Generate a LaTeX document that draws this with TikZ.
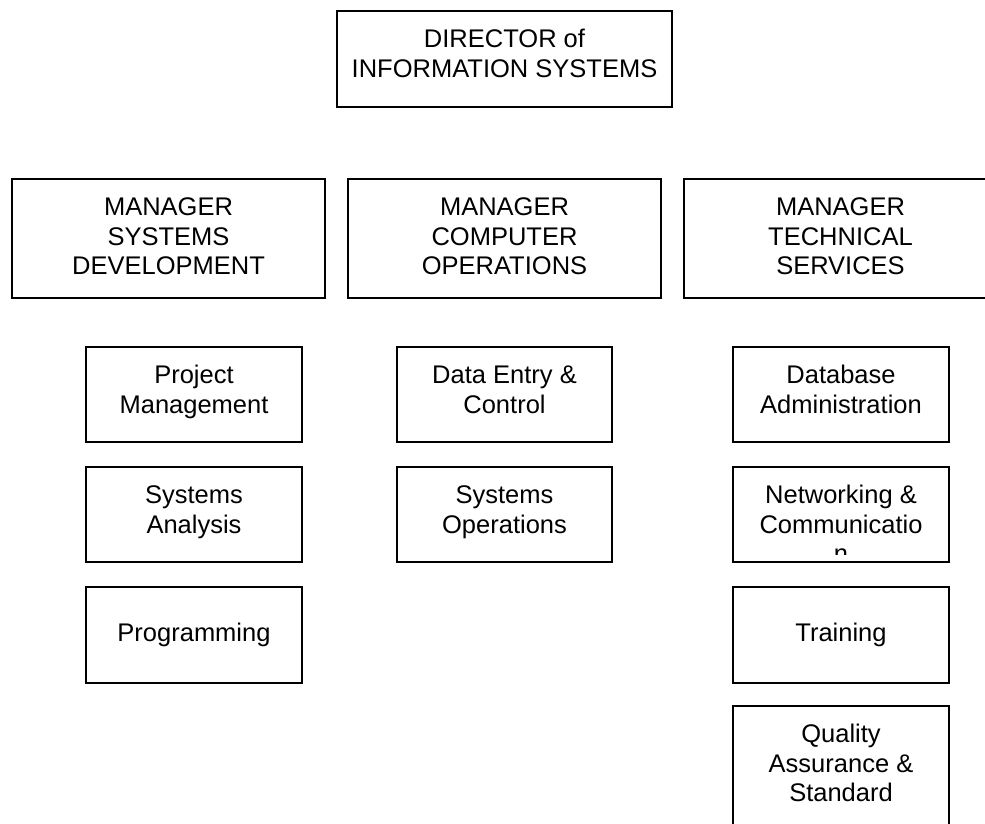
\documentclass[tikz,border=0pt]{standalone}
\usepackage{fontspec}
\setmainfont{Liberation Sans}
\begin{document}
\begin{tikzpicture}[x=1pt,y=-1pt,
  orgbox/.style={draw=black, line width=1.8pt, inner sep=0pt, outer sep=0pt},
  orgtext/.style={font=\fontsize{25.5}{29.5}\selectfont, align=center, inner sep=0pt, anchor=north}]
\useasboundingbox (0,0) rectangle (985,824);
\clip (0,0) rectangle (985,824);
% box from (x1,y1) to (x2,y2), y measured downwards
\newcommand\orgrect[5]{\node[orgbox, minimum width={(#4)-(#2)}, minimum height={(#5)-(#3)}] (#1) at ({((#2)+(#4))/2},{((#3)+(#5))/2}) {};}
% text block whose top sits #3 below the top edge of box #2
\newcommand\orglabel[4]{\node[orgtext] (#1) at ([yshift=-#3pt]#2.north) {#4};}

% director
\orgrect{dir}{337}{11}{672}{107}
\orglabel{dirT}{dir}{15.85}{\strut DIRECTOR of\\\strut INFORMATION SYSTEMS}

% managers
\orgrect{msd}{12}{179}{325}{298}
\orgrect{mco}{348}{179}{661}{298}
\orgrect{mts}{684}{179}{997}{298}
\orglabel{msdT}{msd}{15.85}{\strut MANAGER\\\strut SYSTEMS\\\strut DEVELOPMENT}
\orglabel{mcoT}{mco}{15.85}{\strut MANAGER\\\strut COMPUTER\\\strut OPERATIONS}
\orglabel{mtsT}{mts}{15.85}{\strut MANAGER\\\strut TECHNICAL\\\strut SERVICES}

% systems development units
\orgrect{pm}{86}{347}{302}{442}
\orgrect{sa}{86}{467}{302}{562}
\orgrect{prg}{86}{587}{302}{683}
\orglabel{pmT}{pm}{15.85}{\strut Project\\\strut Management}
\orglabel{saT}{sa}{15.85}{\strut Systems\\\strut Analysis}
\orglabel{prgT}{prg}{34}{\strut Programming}

% computer operations units
\orgrect{de}{397}{347}{612}{442}
\orgrect{so}{397}{467}{612}{562}
\orglabel{deT}{de}{15.85}{\strut Data Entry \&\\\strut Control}
\orglabel{soT}{so}{15.85}{\strut Systems\\\strut Operations}

% technical services units
\orgrect{db}{733}{347}{949}{442}
\orgrect{nw}{733}{467}{949}{562}
\orgrect{tr}{733}{587}{949}{683}
\orgrect{qa}{733}{706}{949}{825}
\orglabel{dbT}{db}{15.85}{\strut Database\\\strut Administration}
\begin{scope}
  % overflowing text is cut at the inner bottom margin
  \clip (nw.north west) rectangle ([yshift=8pt]nw.south east);
  \orglabel{nwT}{nw}{15.85}{\strut Networking \&\\\strut Communicatio\\\strut n}
\end{scope}
\orglabel{trT}{tr}{34}{\strut Training}
\orglabel{qaT}{qa}{15.85}{\strut Quality\\\strut Assurance \&\\\strut Standard}
\end{tikzpicture}
\end{document}
